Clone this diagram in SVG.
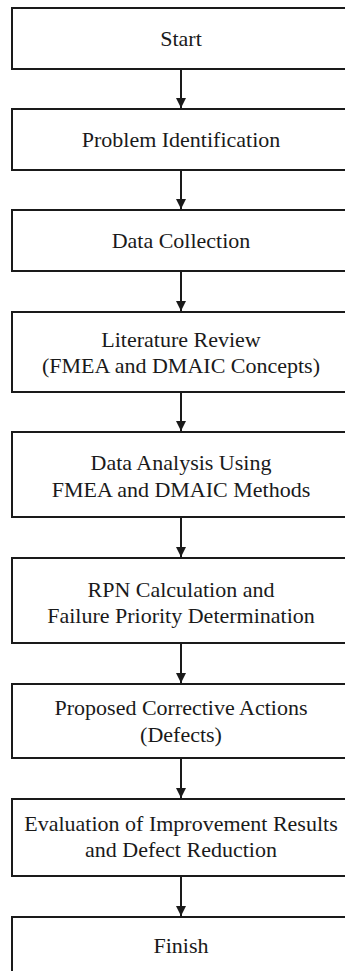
<svg xmlns="http://www.w3.org/2000/svg" width="345" height="971" viewBox="0 0 345 971">
  <style>
    .box { fill: #ffffff; stroke: #1a1a1a; stroke-width: 2; }
    .lbl { font-family: 'Liberation Serif', 'DejaVu Serif', 'Times New Roman', serif; font-size: 22px; fill: #1a1a1a; text-anchor: middle; }
    .link { stroke: #1a1a1a; stroke-width: 2; fill: none; marker-end: url(#head); }
  </style>
  <defs>
    <marker id="head" viewBox="0 0 10 10" refX="10" refY="5" markerWidth="10" markerHeight="10" markerUnits="userSpaceOnUse" orient="auto">
      <path d="M0,0 L10,5 L0,10 Z" fill="#1a1a1a"/>
    </marker>
  </defs>
  <rect width="345" height="971" fill="#ffffff"/>

  <g id="connectors">
    <line class="link" x1="181" y1="69" x2="181" y2="108"/>
    <line class="link" x1="181" y1="170" x2="181" y2="209"/>
    <line class="link" x1="181" y1="271" x2="181" y2="311"/>
    <line class="link" x1="181" y1="392" x2="181" y2="431"/>
    <line class="link" x1="181" y1="517" x2="181" y2="557"/>
    <line class="link" x1="181" y1="643" x2="181" y2="683"/>
    <line class="link" x1="181" y1="758" x2="181" y2="798"/>
    <line class="link" x1="181" y1="876" x2="181" y2="916"/>
  </g>

  <g id="labels-font" font-family="Liberation Serif, DejaVu Serif, serif">
  <g id="start">
    <rect class="box" x="12" y="8" width="340" height="61"/>
    <text class="lbl" x="181" y="46">Start</text>
  </g>
  <g id="problem-identification">
    <rect class="box" x="12" y="109" width="340" height="61"/>
    <text class="lbl" x="181" y="147">Problem Identification</text>
  </g>
  <g id="data-collection">
    <rect class="box" x="12" y="210" width="340" height="61"/>
    <text class="lbl" x="181" y="248">Data Collection</text>
  </g>
  <g id="literature-review">
    <rect class="box" x="12" y="312" width="340" height="80"/>
    <text class="lbl" x="181" y="347">Literature Review</text>
    <text class="lbl" x="181" y="373">(FMEA and DMAIC Concepts)</text>
  </g>
  <g id="data-analysis">
    <rect class="box" x="12" y="432" width="340" height="85"/>
    <text class="lbl" x="181" y="470">Data Analysis Using</text>
    <text class="lbl" x="181" y="497">FMEA and DMAIC Methods</text>
  </g>
  <g id="rpn-calculation">
    <rect class="box" x="12" y="558" width="340" height="85"/>
    <text class="lbl" x="181" y="597">RPN Calculation and</text>
    <text class="lbl" x="181" y="623">Failure Priority Determination</text>
  </g>
  <g id="corrective-actions">
    <rect class="box" x="12" y="684" width="340" height="74"/>
    <text class="lbl" x="181" y="715">Proposed Corrective Actions</text>
    <text class="lbl" x="181" y="742">(Defects)</text>
  </g>
  <g id="evaluation">
    <rect class="box" x="12" y="799" width="340" height="77"/>
    <text class="lbl" x="181" y="831">Evaluation of Improvement Results</text>
    <text class="lbl" x="181" y="857">and Defect Reduction</text>
  </g>
  <g id="finish">
    <rect class="box" x="12" y="917" width="340" height="60"/>
    <text class="lbl" x="181" y="953">Finish</text>
  </g>
  </g>
</svg>
